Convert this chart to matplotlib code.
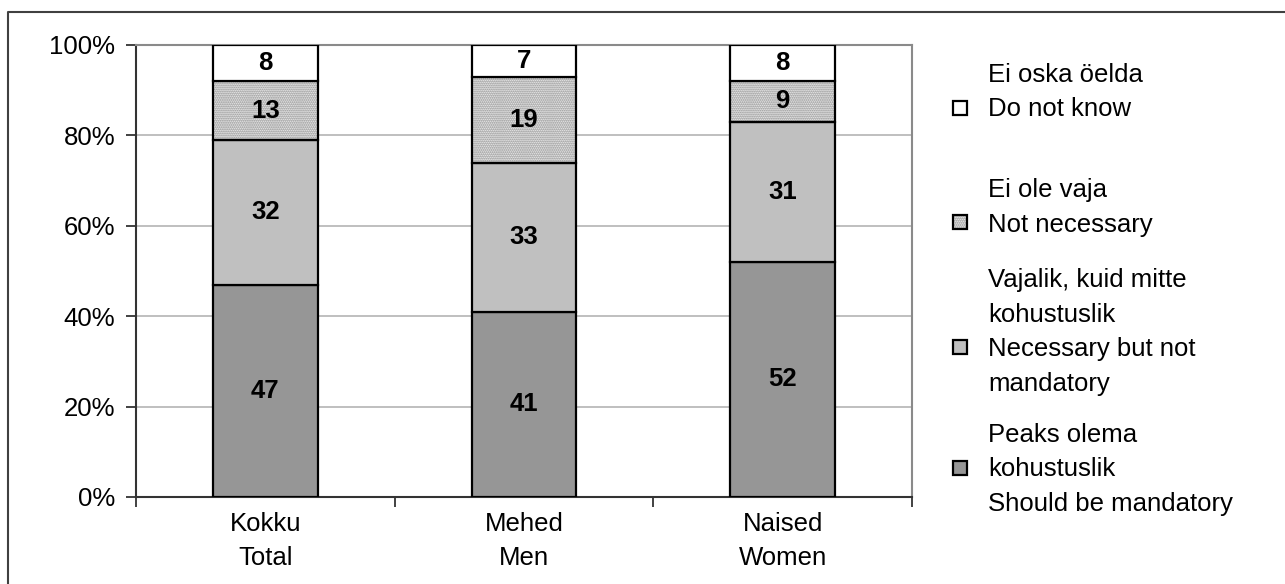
import numpy as np
import matplotlib.pyplot as plt
from matplotlib.patches import Rectangle
from matplotlib.lines import Line2D

plt.rcParams['font.family'] = ['Liberation Sans', 'DejaVu Sans']
plt.rcParams['hatch.linewidth'] = 1.0

# data (percent)
categories = ['Kokku\nTotal', 'Mehed\nMen', 'Naised\nWomen']
mandatory = [47, 41, 52]
not_mandatory = [32, 33, 31]
not_needed = [13, 19, 9]
dont_know = [8, 7, 8]

yticks = [0, 20, 40, 60, 80, 100]
ytick_labels = ['0%', '20%', '40%', '60%', '80%', '100%']

# legend text, top to bottom
legend_labels = [
    ['Ei oska öelda', 'Do not know'],
    ['Ei ole vaja', 'Not necessary'],
    ['Vajalik, kuid mitte', 'kohustuslik', 'Necessary but not', 'mandatory'],
    ['Peaks olema', 'kohustuslik', 'Should be mandatory'],
]

FS = 18.5
W, H = 1285, 584
fig = plt.figure(figsize=(W / 100, H / 100), dpi=100)
ax = fig.add_axes([136 / W, 1 - 497 / H, (912 - 136) / W, (497 - 45) / H])

series = [
    (mandatory, '#969696', None),
    (not_mandatory, '#c0c0c0', None),
    (not_needed, 'white', '........'),
    (dont_know, 'white', None),
]

x = np.arange(len(categories))
bw = 0.405
bottom = np.zeros(len(categories))
for vals, col, hatch in series:
    vals = np.array(vals)
    if hatch:
        ax.bar(x, vals, bw, bottom=bottom, color=col, hatch=hatch,
               edgecolor='#7a7a7a', linewidth=0, zorder=2)
        bars = ax.bar(x, vals, bw, bottom=bottom, fill=False,
                      edgecolor='black', linewidth=1.6, zorder=3)
    else:
        bars = ax.bar(x, vals, bw, bottom=bottom, color=col,
                      edgecolor='black', linewidth=1.6, zorder=3)
    ax.bar_label(bars, labels=[str(v) for v in vals], label_type='center',
                 fontsize=FS, fontweight='bold', zorder=4)
    bottom += vals

ax.set_xlim(-0.5, 2.5)
ax.set_ylim(0, 100)
ax.set_yticks(yticks)
ax.set_yticklabels(ytick_labels, fontsize=FS)
ax.set_xticks(x)
ax.set_xticklabels(categories, fontsize=FS, linespacing=1.5)
ax.set_xticks([-0.5, 0.5, 1.5, 2.5], minor=True)
ax.tick_params(axis='x', which='major', length=0, pad=11)
ax.tick_params(axis='x', which='minor', length=7, width=1.3, color='#333333')
ax.tick_params(axis='y', length=7, width=1.3, color='#333333', pad=8)
ax.yaxis.grid(True, color='#b4b4b4', linewidth=1.2, zorder=0)
ax.set_axisbelow(True)
for s in ['left', 'bottom']:
    ax.spines[s].set_color('#333333')
    ax.spines[s].set_linewidth(1.5)
for s in ['top', 'right']:
    ax.spines[s].set_color('#8a8a8a')
    ax.spines[s].set_linewidth(1.5)

# legend drawn by hand (multi-line entries, marker beside one line)
first_base = [82, 197, 287, 442]
marker_line = [1, 1, 2, 1]
pitch = 34.5
leg_style = [series[3], series[2], series[1], series[0]]
for lines, y0, ml, (vals, col, hatch) in zip(legend_labels, first_base, marker_line, leg_style):
    for i, t in enumerate(lines):
        fig.text(988 / W, 1 - (y0 + i * pitch) / H, t, fontsize=FS, va='baseline', ha='left')
    my = y0 + ml * pitch - 9
    box = (953 / W, 1 - (my + 7) / H)
    if hatch:
        fig.patches.append(Rectangle(box, 14 / W, 14 / H, transform=fig.transFigure,
                                     facecolor=col, hatch=hatch, edgecolor='#7a7a7a', linewidth=0))
        fig.patches.append(Rectangle(box, 14 / W, 14 / H, transform=fig.transFigure,
                                     fill=False, edgecolor='black', linewidth=1.6))
    else:
        fig.patches.append(Rectangle(box, 14 / W, 14 / H, transform=fig.transFigure,
                                     facecolor=col, edgecolor='black', linewidth=1.6))

# outer chart border (left and top)
fig.lines.append(Line2D([8 / W, 8 / W, 1], [0, 1 - 12 / H, 1 - 12 / H],
                        transform=fig.transFigure, color='#404040', linewidth=1.5))

fig.savefig('out.png', dpi=100)
